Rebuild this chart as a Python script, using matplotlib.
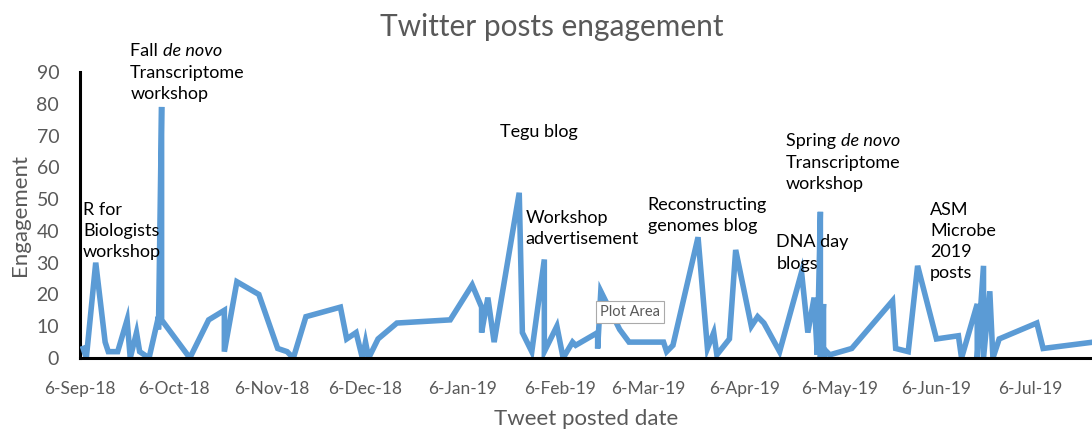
import pandas as pd
import matplotlib
matplotlib.use("Agg")
import matplotlib.pyplot as plt
import matplotlib.dates as mdates

plt.rcParams['font.family'] = ['Lato', 'DejaVu Sans']

# engagement per tweet (several tweets can share a date)
post_dates = [
    "2018-09-07", "2018-09-08", "2018-09-11", "2018-09-14", "2018-09-15", "2018-09-18",
    "2018-09-21", "2018-09-22", "2018-09-24", "2018-09-25", "2018-09-28", "2018-10-01",
    "2018-10-01", "2018-10-02", "2018-10-02", "2018-10-11", "2018-10-17", "2018-10-22",
    "2018-10-22", "2018-10-26", "2018-11-02", "2018-11-08", "2018-11-11", "2018-11-13",
    "2018-11-17", "2018-11-28", "2018-11-30", "2018-12-03", "2018-12-05", "2018-12-06",
    "2018-12-07", "2018-12-10", "2018-12-16", "2019-01-02", "2019-01-09", "2019-01-12",
    "2019-01-12", "2019-01-14", "2019-01-16", "2019-01-24", "2019-01-25", "2019-01-28",
    "2019-02-01", "2019-02-01", "2019-02-05", "2019-02-07", "2019-02-10", "2019-02-11",
    "2019-02-18", "2019-02-18", "2019-02-19", "2019-02-23", "2019-02-25", "2019-02-28",
    "2019-03-11", "2019-03-12", "2019-03-14", "2019-03-22", "2019-03-25", "2019-03-27",
    "2019-03-28", "2019-04-01", "2019-04-03", "2019-04-08", "2019-04-10", "2019-04-12",
    "2019-04-17", "2019-04-24", "2019-04-26", "2019-04-28", "2019-04-29", "2019-04-30",
    "2019-04-30", "2019-05-01", "2019-05-01", "2019-05-02", "2019-05-03", "2019-05-10",
    "2019-05-23", "2019-05-24", "2019-05-28", "2019-05-31", "2019-06-06", "2019-06-13",
    "2019-06-14", "2019-06-19", "2019-06-19", "2019-06-21", "2019-06-21", "2019-06-23",
    "2019-06-24", "2019-06-26", "2019-07-08", "2019-07-10", "2019-07-26",
]
engagement = [
    3, 0, 30, 5, 2, 2,
    12, 0, 8, 2, 0, 13,
    9, 79, 12, 0, 12, 15,
    2, 24, 20, 3, 2, 0,
    13, 16, 6, 8, 0, 5,
    0, 6, 11, 12, 23, 16,
    8, 19, 5, 52, 8, 2,
    31, 2, 10, 0, 5, 4,
    8, 3, 21, 13, 9, 5,
    5, 2, 4, 38, 3, 8,
    1, 6, 34, 10, 13, 11,
    2, 27, 8, 19, 1, 46,
    0, 17, 0, 2, 1, 3,
    18, 3, 2, 29, 6, 7,
    0, 17, 0, 29, 0, 21,
    0, 6, 11, 3, 5,
]

# labels on the chart: text, left date, top value
note_texts = [
    "R for\nBiologists\nworkshop",
    "Tegu blog",
    "Workshop\nadvertisement",
    "Reconstructing\ngenomes blog",
    "DNA day\nblogs",
    "ASM\nMicrobe\n2019\nposts",
]
note_dates = ["2018-09-07", "2019-01-18", "2019-01-26", "2019-03-06", "2019-04-16", "2019-06-04"]
note_tops = [49.2, 73.7, 46.7, 50.6, 38.9, 49.2]

# labels with an italic "de novo"
denovo_heads = ["Fall ", "Spring "]
denovo_dates = ["2018-09-22", "2019-04-19"]
denovo_tops = [99.2, 70.9]

x = pd.to_datetime(post_dates)

fig = plt.figure(figsize=(10.92, 4.29), dpi=100)
ax = fig.add_axes([0.0733, 0.1655, 0.9267, 0.6667])

ax.plot(x, engagement, color='#5B9BD5', lw=4, solid_joinstyle='miter', zorder=3)

ax.set_ylim(0, 90)
ax.set_xlim(pd.Timestamp("2018-09-06"), pd.Timestamp("2019-07-25 14:00"))
ax.yaxis.set_major_locator(plt.MultipleLocator(10))
ax.xaxis.set_major_locator(mdates.MonthLocator(bymonthday=6))
ax.xaxis.set_major_formatter(mdates.DateFormatter('%-d-%b-%y'))

for side in ['top', 'right']:
    ax.spines[side].set_visible(False)
for side in ['left', 'bottom']:
    ax.spines[side].set_color('black')
    ax.spines[side].set_linewidth(2.2)
ax.spines['bottom'].set_zorder(4)

ax.tick_params(axis='y', length=0, pad=15, labelsize=14, labelcolor='#595959')
ax.tick_params(axis='x', length=0, pad=16.5, labelsize=12.5, labelcolor='#595959')

ax.set_ylabel("Engagement", fontsize=16, color='#595959', labelpad=5)
ax.set_xlabel("Tweet posted date", fontsize=16, color='#595959', labelpad=9)
fig.text(0.505, 0.936, "Twitter posts engagement", ha='center', va='center',
         fontsize=21.5, color='#595959')

for t, d, v in zip(note_texts, note_dates, note_tops):
    ax.text(pd.Timestamp(d), v, t, ha='left', va='top', fontsize=13,
            color='black', linespacing=1.4, zorder=5)

for head, d, v in zip(denovo_heads, denovo_dates, denovo_tops):
    t1 = ax.text(pd.Timestamp(d), v, head, ha='left', va='top', fontsize=13, color='black')
    ax.annotate("de novo", xy=(1, 0), xycoords=t1, ha='left', va='bottom',
                fontsize=13, style='italic', color='black')
    ax.annotate("Transcriptome\nworkshop", xy=(0, 0), xycoords=t1, ha='left', va='top',
                xytext=(0, -4.3), textcoords='offset points',
                fontsize=13, color='black', linespacing=1.4)

fig.text(0.577, 0.273, "Plot Area", ha='center', va='center', fontsize=10.5, color='#595959',
         bbox=dict(boxstyle='square,pad=0.3', facecolor='white', edgecolor='#aaaaaa', lw=0.8))

fig.savefig("out.png", dpi=100)
